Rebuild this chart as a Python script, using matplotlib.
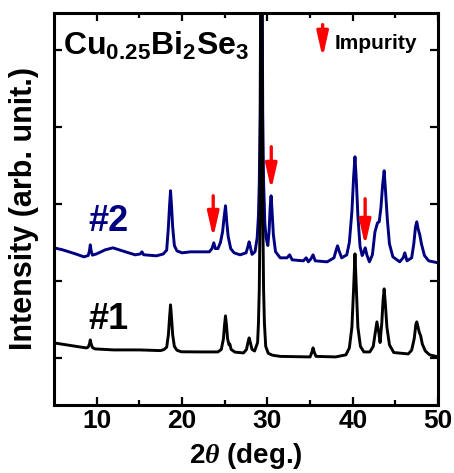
import numpy as np
import matplotlib
matplotlib.use("Agg")
import matplotlib.pyplot as plt

plt.rcParams['font.family'] = ['Liberation Sans', 'DejaVu Sans']
plt.rcParams['font.weight'] = 'bold'
plt.rcParams['mathtext.fontset'] = 'custom'
plt.rcParams['mathtext.rm'] = 'Liberation Sans:bold'
plt.rcParams['mathtext.bf'] = 'Liberation Sans:bold'
plt.rcParams['mathtext.it'] = 'Liberation Serif:italic'

# ---------------- data (2theta in deg., intensity in arb. counts) ----------------
# sample #1 (black)
x1 = [5.0, 6.5, 8.0, 8.8,
      9.0, 9.15, 9.25, 9.35, 9.5, 9.8, 12.0, 15.0, 17.5,
      17.9, 18.2, 18.4, 18.52, 18.65, 18.78, 18.9, 19.1, 19.4, 19.9, 22.0, 24.2,
      24.6, 24.85, 24.97, 25.09, 25.21, 25.33, 25.5, 25.6, 25.75, 26.2, 27.2,
      27.55, 27.72, 27.86, 28.0, 28.2, 28.5,
      28.85, 28.95, 29.05, 29.15, 29.22, 29.3, 29.38, 29.45, 29.55, 29.65, 29.8,
      30.1, 30.6, 31.5,
      35.0, 35.2, 35.35, 35.5, 35.7, 38.0, 39.2,
      39.6, 39.9, 40.1, 40.26, 40.42, 40.6, 40.9, 41.3, 42.0,
      42.4, 42.6, 42.83, 43.05, 43.2, 43.4, 43.55, 43.68, 43.82, 44.0, 44.3, 44.8,
      46.5, 46.9, 47.2, 47.4, 47.5, 47.65, 47.8, 47.95, 48.15, 48.5, 49.0, 50.0]
y1 = [195, 169, 143, 130,
      140, 180, 234, 180, 135, 117, 104, 104, 95,
      110, 140, 300, 500, 689, 500, 300, 150, 100, 80, 78, 78,
      110, 250, 420, 546, 420, 250, 170, 180, 110, 75, 65,
      110, 200, 260, 200, 110, 90,
      200, 450, 900, 2000, 4500, 12000, 4500, 2000, 900, 450, 150,
      60, 35, 20,
      13, 70, 130, 70, 20, 13, 40,
      130, 400, 900, 1352, 900, 400, 150, 78, 78,
      150, 300, 468, 330, 200, 450, 750, 897, 700, 400, 170, 70,
      52, 100, 250, 440, 468, 400, 330, 290, 180, 90, 40, 13]

# sample #2 (navy)
x2 = [5.0, 6.0, 7.5, 8.5, 9.0, 9.15, 9.25, 9.35, 9.5, 10.0, 11.0, 11.9, 13.0, 14.5,
      15.1, 15.3, 15.5, 17.0, 17.8,
      18.2, 18.4, 18.52, 18.65, 18.78, 18.9, 19.1, 19.4, 20.0, 21.0, 23.2,
      23.5, 23.72, 23.9, 24.2, 24.5, 24.75, 24.9, 25.09, 25.25, 25.4, 25.7, 26.1,
      26.8, 27.5, 27.7, 27.86, 28.0, 28.2, 28.55,
      28.8, 28.95, 29.05, 29.15, 29.22, 29.3, 29.38, 29.45, 29.55, 29.7, 29.85,
      30.05, 30.2, 30.32, 30.43, 30.55,
      30.7, 30.95, 31.5, 32.3, 32.6, 32.9, 34.2, 34.55, 34.8, 35.1, 35.35, 35.6, 37.0,
      37.8, 38.05, 38.22, 38.4, 38.7, 39.3,
      39.6, 39.9, 40.1, 40.26, 40.42, 40.6, 40.85, 41.1, 41.3, 41.46, 41.65, 41.95,
      42.3, 42.6, 42.9, 43.1, 43.3, 43.5, 43.68, 43.85, 44.05, 44.3, 44.7, 45.5,
      45.9, 46.1, 46.35, 46.9, 47.15, 47.35, 47.5, 47.65, 47.85, 48.05, 48.4, 48.9, 50.0]
y2 = [1430, 1404, 1352, 1313, 1330, 1390, 1469, 1390, 1335, 1352, 1404, 1430, 1391, 1339,
      1350, 1378, 1340, 1326, 1350,
      1400, 1700, 1950, 2171, 1950, 1700, 1460, 1390, 1365, 1378, 1378,
      1420, 1495, 1420, 1420, 1500, 1640, 1800, 1976, 1750, 1580, 1420, 1365,
      1339, 1365, 1440, 1508, 1440, 1345, 1380,
      1560, 1850, 2300, 3200, 5000, 12000, 5000, 3200, 2300, 1750, 1560,
      1460, 1650, 1950, 2106, 1900,
      1600, 1380, 1300, 1300, 1339, 1274, 1261, 1300, 1248, 1287, 1339, 1261, 1248,
      1300, 1400, 1456, 1390, 1300, 1339,
      1500, 1900, 2350, 2613, 2300, 1850, 1450, 1330, 1378, 1430, 1339, 1248,
      1339, 1638, 1755, 1768, 1950, 2250, 2431, 2150, 1800, 1480, 1313, 1248,
      1300, 1365, 1261, 1300, 1480, 1700, 1768, 1680, 1600, 1480, 1330, 1261, 1235]

# impurity arrows: x position, tail, tip
arrow_x = [23.65, 30.45, 41.45]
arrow_tail = [2106, 2743, 2067]
arrow_tip = [1560, 2184, 1456]

fig = plt.figure(figsize=(4.54, 4.73), dpi=100)
ax = fig.add_axes([0.119, 0.144, 0.846, 0.8285])

ax.plot(x2, y2, color='#000080', lw=2.1)
ax.plot(x1, y1, color='black', lw=2.1)

arrow_style = dict(arrowstyle='-|>,head_length=0.75,head_width=0.17', color='red',
                   lw=2.4, shrinkA=0, shrinkB=0, mutation_scale=20)
for xa, ta, tp in zip(arrow_x, arrow_tail, arrow_tip):
    ax.annotate('', xy=(xa, tp), xytext=(xa, ta), arrowprops=arrow_style)

# legend-like impurity marker
ax.annotate('', xy=(36.47, 3900), xytext=(36.47, 4329), arrowprops=arrow_style)
ax.text(37.9, 4017, 'Impurity', fontsize=15, fontweight='bold', ha='left', va='baseline')

ax.text(6.0, 3939, r'$\mathrm{Cu_{0.25}Bi_2Se_3}$', fontsize=23, ha='left', va='baseline')
ax.text(9.06, 1651, '#2', fontsize=26, fontweight='bold', color='#000080', ha='left', va='baseline')
ax.text(9.06, 377, '#1', fontsize=26, fontweight='bold', color='black', ha='left', va='baseline')

ax.set_xlim(5, 50)
ax.set_ylim(-610, 4480)
ax.set_xticks([10, 20, 30, 40, 50])
ax.set_xticks([15, 25, 35, 45], minor=True)
ax.set_yticks([0, 1000, 2000, 3000, 4000])
ax.set_yticklabels([])
ax.tick_params(which='both', direction='in', top=True, right=True, width=1.6)
ax.tick_params(which='major', length=6)
ax.tick_params(which='minor', length=3.5)
ax.tick_params(axis='x', labelsize=19, pad=3)
for lbl in ax.get_xticklabels():
    lbl.set_fontweight('bold')
for sp in ax.spines.values():
    sp.set_linewidth(2.2)

ax.set_xlabel(r'2$\theta$ (deg.)', fontsize=20, fontweight='bold', labelpad=6)
ax.set_ylabel('Intensity (arb. unit.)', fontsize=22, fontweight='bold', labelpad=7)

fig.savefig('out.png', dpi=100)
